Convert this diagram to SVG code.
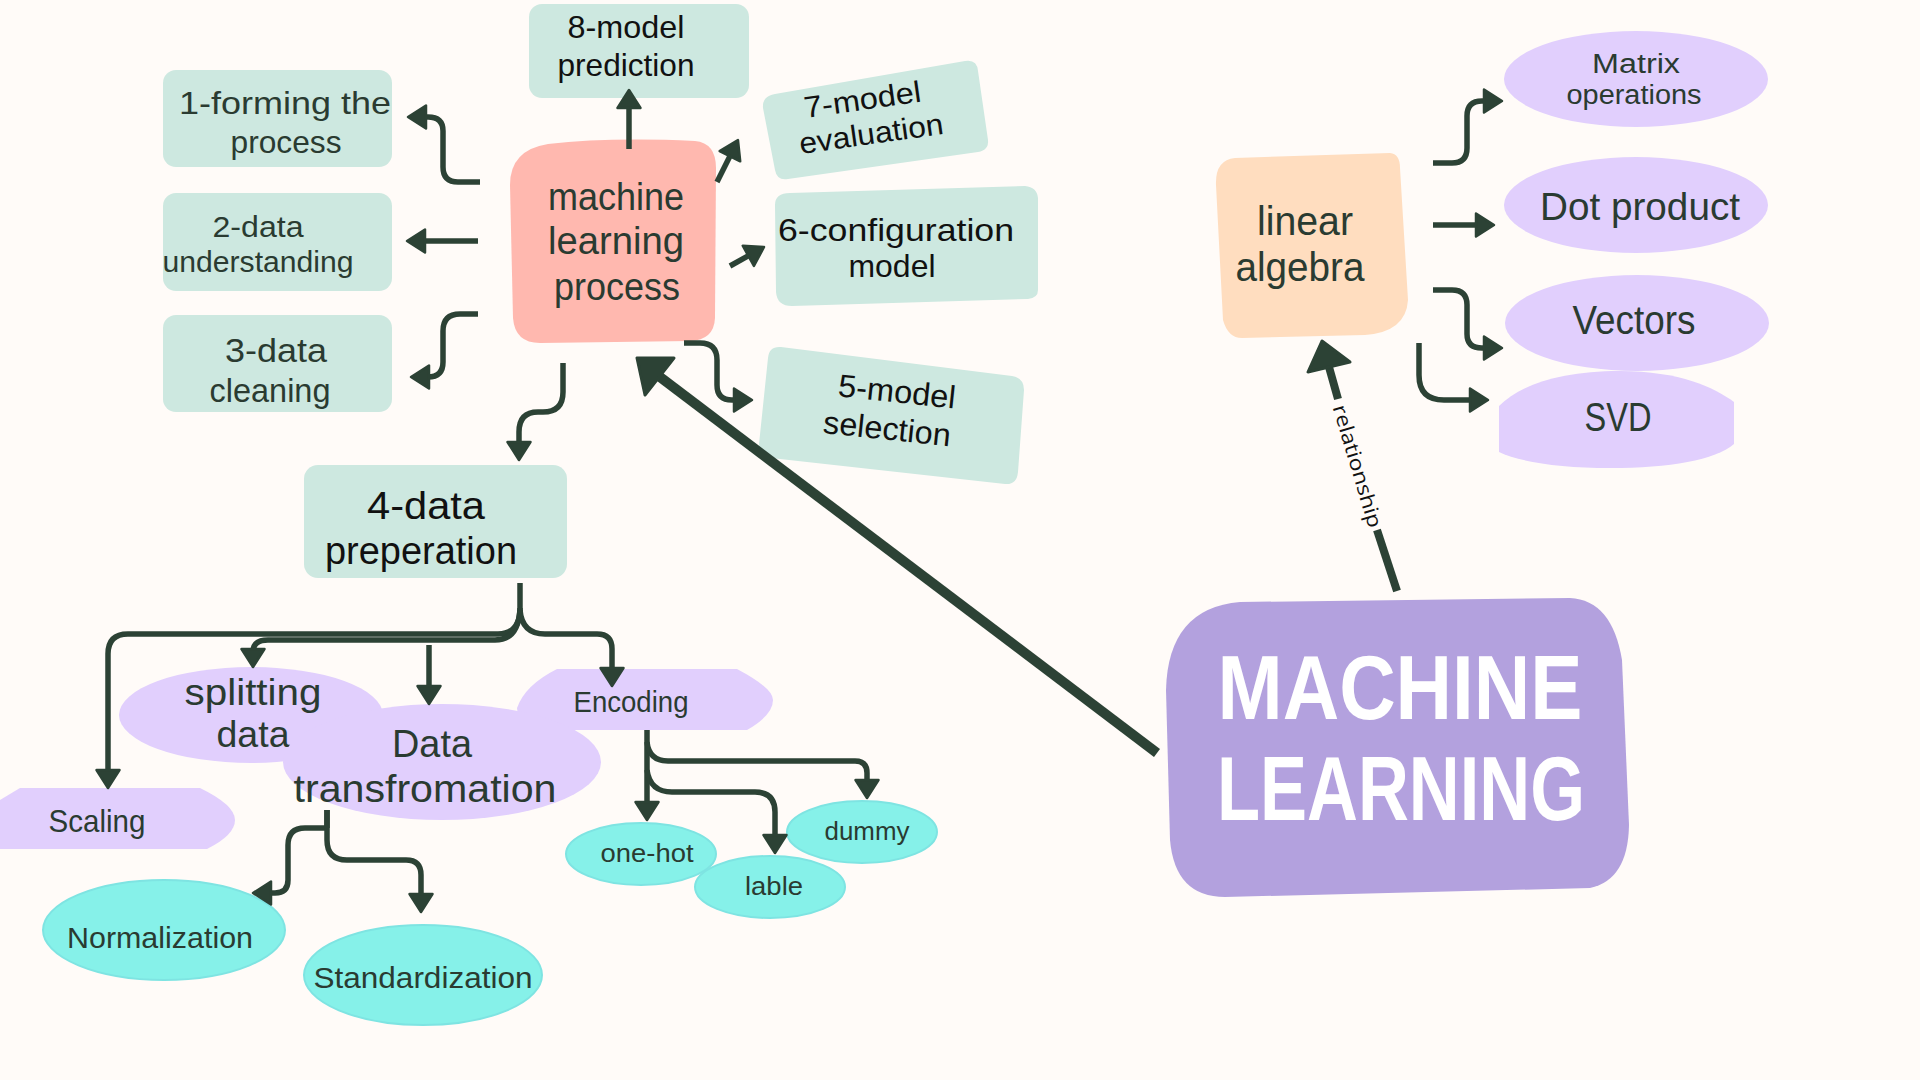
<svg xmlns="http://www.w3.org/2000/svg" width="1920" height="1080" viewBox="0 0 1920 1080">
<style>
.t{font-family:"Liberation Sans","Noto Sans",Arial,sans-serif;fill:#2a3b31;text-anchor:middle}
.k{fill:#111}
.mint{fill:#cde8e0}
.lav{fill:#e1cffd}
.cy{fill:#86f1e9;stroke:#7ee4e2;stroke-width:2}
.ln{fill:none;stroke:#2c4235;stroke-width:5.5;stroke-linejoin:round}
.hd{fill:#2c4235;stroke:#2c4235;stroke-width:3;stroke-linejoin:round}
</style>
<defs>
<marker id="ah" markerUnits="userSpaceOnUse" markerWidth="26" markerHeight="28" viewBox="-2 -2 24 28" refX="8" refY="11.5" orient="auto">
<path d="M0,0 L18,11.5 L0,23 Z" fill="#2c4235" stroke="#2c4235" stroke-width="2.5" stroke-linejoin="round"/>
</marker>
</defs>
<rect width="1920" height="1080" fill="#fffbf8"/>

<g id="node-forming">
<rect class="mint" x="163" y="70" width="229" height="97" rx="13"/>
<text class="t" x="285" y="114" font-size="32" textLength="212" lengthAdjust="spacingAndGlyphs">1-forming the</text>
<text class="t" x="286" y="153" font-size="32" textLength="111" lengthAdjust="spacingAndGlyphs">process</text>
</g>
<g id="node-understanding">
<rect class="mint" x="163" y="193" width="229" height="98" rx="13"/>
<text class="t" x="258" y="237" font-size="30" textLength="91" lengthAdjust="spacingAndGlyphs">2-data</text>
<text class="t" x="258" y="272" font-size="30" textLength="191" lengthAdjust="spacingAndGlyphs">understanding</text>
</g>
<g id="node-cleaning">
<rect class="mint" x="163" y="315" width="229" height="97" rx="13"/>
<text class="t" x="276" y="362" font-size="34" textLength="102" lengthAdjust="spacingAndGlyphs">3-data</text>
<text class="t" x="270" y="402" font-size="34" textLength="121" lengthAdjust="spacingAndGlyphs">cleaning</text>
</g>
<g id="node-prediction">
<rect class="mint" x="529" y="4" width="220" height="94" rx="13"/>
<text class="t k" x="626" y="38" font-size="32" textLength="117" lengthAdjust="spacingAndGlyphs">8-model</text>
<text class="t k" x="626" y="76" font-size="32" textLength="137" lengthAdjust="spacingAndGlyphs">prediction</text>
</g>
<g id="node-evaluation">
<path class="mint" d="M775,94 L965,61 Q977,59 978,71 L988,140 Q989,150 978,152 L788,179 Q777,181 775,170 L763,108 Q762,96 775,94 Z"/>
<g transform="rotate(-8 870 125)">
<text class="t k" x="866" y="109" font-size="30" textLength="118" lengthAdjust="spacingAndGlyphs">7-model</text>
<text class="t k" x="870" y="144" font-size="30" textLength="145" lengthAdjust="spacingAndGlyphs">evaluation</text>
</g>
</g>
<g id="node-configuration">
<path class="mint" d="M790,193 L1025,186 Q1037,187 1038,198 L1038,290 Q1038,298 1028,299 L792,306 Q777,306 776,292 L775,205 Q775,193 790,193 Z"/>
<text class="t k" x="896" y="241" font-size="32" textLength="236" lengthAdjust="spacingAndGlyphs">6-configuration</text>
<text class="t k" x="892" y="277" font-size="32" textLength="87" lengthAdjust="spacingAndGlyphs">model</text>
</g>
<g id="node-selection">
<path class="mint" d="M781,347 L1012,376 Q1024,378 1024,390 L1018,472 Q1017,485 1005,484 L771,458 Q759,456 759,444 L768,358 Q769,346 781,347 Z"/>
<g transform="rotate(6 891 420)">
<text class="t k" x="894" y="402" font-size="32" textLength="118" lengthAdjust="spacingAndGlyphs">5-model</text>
<text class="t k" x="888" y="440" font-size="32" textLength="128" lengthAdjust="spacingAndGlyphs">selection</text>
</g>
</g>
<g id="node-ml-process">
<path fill="#ffb8af" d="M548,144 Q610,137 695,141 Q716,143 716,168 L715,318 Q714,340 690,341 L540,343 Q515,343 513,318 L510,185 Q510,150 548,144 Z"/>
<text class="t" x="616" y="210" font-size="38" textLength="136" lengthAdjust="spacingAndGlyphs">machine</text>
<text class="t" x="616" y="254" font-size="38" textLength="136" lengthAdjust="spacingAndGlyphs">learning</text>
<text class="t" x="617" y="300" font-size="38" textLength="126" lengthAdjust="spacingAndGlyphs">process</text>
</g>
<g id="node-preparation">
<rect class="mint" x="304" y="465" width="263" height="113" rx="14"/>
<text class="t k" x="426" y="519" font-size="38" textLength="118" lengthAdjust="spacingAndGlyphs">4-data</text>
<text class="t k" x="421" y="564" font-size="38" textLength="192" lengthAdjust="spacingAndGlyphs">preperation</text>
</g>

<g id="node-linear-algebra">
<path fill="#ffddbf" d="M1235,158 L1390,153 Q1400,154 1400,168 L1408,300 Q1406,332 1365,335 L1242,338 Q1228,338 1223,320 L1216,185 Q1215,160 1235,158 Z"/>
<text class="t" x="1305" y="235" font-size="40" textLength="96" lengthAdjust="spacingAndGlyphs">linear</text>
<text class="t" x="1300" y="281" font-size="40" textLength="129" lengthAdjust="spacingAndGlyphs">algebra</text>
</g>
<g id="node-matrix">
<ellipse class="lav" cx="1636" cy="79" rx="132" ry="48"/>
<text class="t" x="1636" y="73" font-size="27" textLength="88" lengthAdjust="spacingAndGlyphs">Matrix</text>
<text class="t" x="1634" y="104" font-size="27" textLength="135" lengthAdjust="spacingAndGlyphs">operations</text>
</g>
<g id="node-dot">
<ellipse class="lav" cx="1636" cy="205" rx="132" ry="48"/>
<text class="t" x="1640" y="220" font-size="38" textLength="200" lengthAdjust="spacingAndGlyphs">Dot product</text>
</g>
<g id="node-vectors">
<ellipse class="lav" cx="1637" cy="323" rx="132" ry="48"/>
<text class="t" x="1634" y="334" font-size="40" textLength="123" lengthAdjust="spacingAndGlyphs">Vectors</text>
</g>
<g id="node-svd">
<path class="lav" d="M1499,406 C1520,385 1560,371 1620,371 C1680,371 1715,388 1734,402 L1734,444 C1715,460 1670,468 1610,468 C1560,468 1520,462 1499,452 Z"/>
<text class="t" x="1618" y="431" font-size="40" textLength="67" lengthAdjust="spacingAndGlyphs">SVD</text>
</g>

<g id="node-machine-learning">
<path fill="#b3a1de" d="M1240,602 L1570,598 Q1612,600 1622,660 L1629,825 Q1628,880 1590,888 L1225,897 Q1175,897 1170,840 L1166,690 Q1168,608 1240,602 Z"/>
<text x="1400" y="719" font-family="Liberation Sans, Noto Sans, Arial, sans-serif" font-size="90" font-weight="bold" fill="#ffffff" text-anchor="middle" textLength="365" lengthAdjust="spacingAndGlyphs">MACHINE</text>
<text x="1401" y="820" font-family="Liberation Sans, Noto Sans, Arial, sans-serif" font-size="90" font-weight="bold" fill="#ffffff" text-anchor="middle" textLength="368" lengthAdjust="spacingAndGlyphs">LEARNING</text>
</g>

<g id="node-splitting">
<ellipse class="lav" cx="251" cy="715" rx="132" ry="48"/>
<text class="t" x="253" y="705" font-size="36" textLength="137" lengthAdjust="spacingAndGlyphs">splitting</text>
<text class="t" x="253" y="747" font-size="36" textLength="73" lengthAdjust="spacingAndGlyphs">data</text>
</g>
<g id="node-encoding">
<path class="lav" d="M557,669 L737,669 Q773,688 773,700 Q773,715 747,730 L530,730 Q517,720 517,708 Q525,685 557,669 Z"/>
<text class="t" x="631" y="712" font-size="30" textLength="115" lengthAdjust="spacingAndGlyphs">Encoding</text>
</g>
<g id="node-transformation">
<ellipse class="lav" cx="442" cy="762" rx="159" ry="58"/>
<text class="t" x="432" y="757" font-size="38" textLength="80" lengthAdjust="spacingAndGlyphs">Data</text>
<text class="t" x="425" y="802" font-size="38" textLength="263" lengthAdjust="spacingAndGlyphs">transfromation</text>
</g>
<g id="node-scaling">
<path class="lav" d="M20,788 L200,788 Q235,805 235,820 Q235,835 207,849 L0,849 L0,800 Z"/>
<text class="t" x="97" y="832" font-size="32" textLength="97" lengthAdjust="spacingAndGlyphs">Scaling</text>
</g>
<g id="node-normalization">
<ellipse class="cy" cx="164" cy="930" rx="121" ry="50"/>
<text class="t" x="160" y="948" font-size="30" textLength="186" lengthAdjust="spacingAndGlyphs">Normalization</text>
</g>
<g id="node-standardization">
<ellipse class="cy" cx="423" cy="975" rx="119" ry="50"/>
<text class="t" x="423" y="988" font-size="30" textLength="219" lengthAdjust="spacingAndGlyphs">Standardization</text>
</g>
<g id="node-onehot">
<ellipse class="cy" cx="641" cy="854" rx="75" ry="31"/>
<text class="t" x="647" y="862" font-size="26" textLength="93" lengthAdjust="spacingAndGlyphs">one-hot</text>
</g>
<g id="node-dummy">
<ellipse class="cy" cx="862" cy="832" rx="75" ry="31"/>
<text class="t" x="867" y="840" font-size="26" textLength="85" lengthAdjust="spacingAndGlyphs">dummy</text>
</g>
<g id="node-lable">
<ellipse class="cy" cx="770" cy="887" rx="75" ry="31"/>
<text class="t" x="774" y="895" font-size="26" textLength="58" lengthAdjust="spacingAndGlyphs">lable</text>
</g>

<g id="connectors">
<path class="ln" marker-end="url(#ah)" d="M480,182 L458,182 Q443,182 443,167 L443,131 Q443,117 428,117 L418,117"/>
<path class="ln" marker-end="url(#ah)" d="M478,241 L417,241"/>
<path class="ln" marker-end="url(#ah)" d="M478,314 L460,314 Q443,314 443,331 L443,362 Q443,377 428,377 L421,377"/>
<path class="ln" marker-end="url(#ah)" d="M563,363 L563,392 Q563,412 543,412 L538,412 Q519,412 519,432 L519,450"/>
<path class="ln" marker-end="url(#ah)" d="M629,149 L629,100"/>
<path class="ln" marker-end="url(#ah)" d="M717,182 L733.5,149"/>
<path class="ln" marker-end="url(#ah)" d="M730,266 L755.3,251.9"/>
<path class="ln" marker-end="url(#ah)" d="M684,343 L700,343 Q717,343 717,360 L717,385 Q717,400 732,400 L742,400"/>

<path class="ln" marker-end="url(#ah)" d="M1433,163 L1452,163 Q1467,163 1467,148 L1467,116 Q1467,101 1482,101 L1492,101"/>
<path class="ln" marker-end="url(#ah)" d="M1433,225 L1484,225"/>
<path class="ln" marker-end="url(#ah)" d="M1433,290 L1452,290 Q1467,290 1467,305 L1467,334 Q1467,348 1482,348 L1492,348"/>
<path class="ln" marker-end="url(#ah)" d="M1419,343 L1419,375 Q1419,400 1444,400 L1478,400"/>

<path class="ln" d="M520,583 L520,612"/>
<path class="ln" marker-end="url(#ah)" d="M520,608 Q520,634 498,634 L128,634 Q108,634 108,654 L108,778"/>
<path class="ln" marker-end="url(#ah)" d="M520,610 Q518,640 495,640 L268,640 Q253,640 253,652 L253,657"/>
<path class="ln" marker-end="url(#ah)" d="M429,645 L429,694"/>
<path class="ln" marker-end="url(#ah)" d="M520,610 Q522,634 545,634 L597,634 Q612,634 612,649 L612,676"/>

<path class="ln" d="M327,810 L327,828"/>
<path class="ln" marker-end="url(#ah)" d="M327,828 L305,828 Q288,828 288,845 L288,880 Q288,893 275,893 L263,893"/>
<path class="ln" marker-end="url(#ah)" d="M327,810 L327,840 Q327,860 347,860 L406,860 Q421,860 421,875 L421,902"/>

<path class="ln" marker-end="url(#ah)" d="M647,730 L647,810"/>
<path class="ln" marker-end="url(#ah)" d="M647,742 Q649,761 668,761 L855,761 Q867,761 867,773 L867,788"/>
<path class="ln" marker-end="url(#ah)" d="M647,770 Q650,792 672,792 L755,792 Q775,792 775,812 L775,843"/>

<path d="M1157,753 L660,377" fill="none" stroke="#2c4235" stroke-width="10"/>
<path class="hd" d="M637,358 L674,358 L645,395 Z" stroke-width="4"/>

<path d="M1397,591 L1377,530" fill="none" stroke="#2c4235" stroke-width="8"/>
<path d="M1338,399 L1329,367" fill="none" stroke="#2c4235" stroke-width="8"/>
<path class="hd" d="M1322,341 L1308,372 L1350,362 Z" stroke-width="4"/>
<text x="1358" y="466" transform="rotate(73.3 1358 466)" font-family="Open Sans, Noto Sans, sans-serif" font-size="20" fill="#111" text-anchor="middle" dominant-baseline="central" textLength="127" lengthAdjust="spacingAndGlyphs">relationship</text>
</g>
</svg>
